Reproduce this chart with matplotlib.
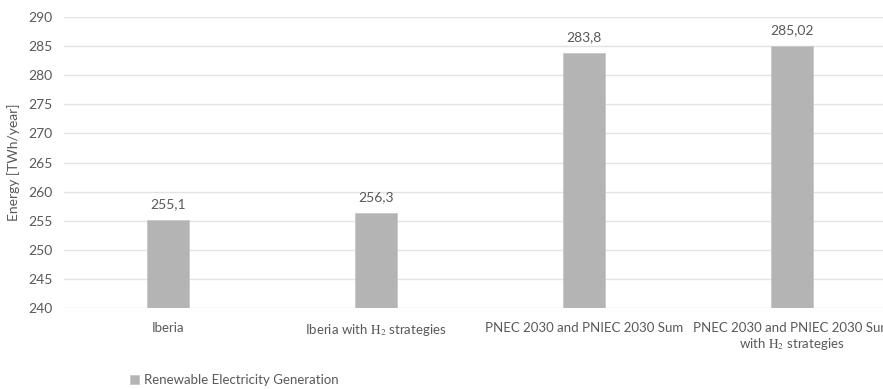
import matplotlib.pyplot as plt

# Dados
cenarios = ['Iberia', 'Iberia with $\\mathrm{H}_2$ strategies',
            'PNEC 2030 and PNIEC 2030 Sum',
            'PNEC 2030 and PNIEC 2030 Sum\nwith $\\mathrm{H}_2$ strategies']
energia = [255.1, 256.3, 283.8, 285.02]
rotulos = ['255,1', '256,3', '283,8', '285,02']

plt.rcParams['font.family'] = ['Lato', 'DejaVu Sans']
plt.rcParams['mathtext.fontset'] = 'stix'
cor_texto = '#595959'
fs = 10

fig = plt.figure(figsize=(8.83, 3.89), dpi=100)
ax = fig.add_axes([64 / 883, 81 / 389, 832 / 883, 291 / 389])

x = range(len(cenarios))
barras = ax.bar(x, energia, width=0.2, color='#b4b4b4', edgecolor='#c8c8c8',
                linewidth=0.6, label='Renewable Electricity Generation', zorder=2)
for b, txt in zip(barras, rotulos):
    ax.annotate(txt, (b.get_x() + b.get_width() / 2, b.get_height()),
                xytext=(0, 7), textcoords='offset points', ha='center', va='bottom',
                fontsize=fs, color=cor_texto)

ax.set_xlim(-0.5, len(cenarios) - 0.5)
ax.set_ylim(240, 290)
ax.set_yticks(range(240, 291, 5))
ax.set_xticks(list(x))
ax.set_xticklabels(cenarios, fontsize=9.5, color=cor_texto, linespacing=1.15)
ax.tick_params(axis='y', labelsize=fs, labelcolor=cor_texto, length=0, pad=8)
ax.tick_params(axis='x', length=0, pad=10)
ax.grid(axis='y', color='#e3e3e3', linewidth=1, zorder=0)
for lado in ax.spines.values():
    lado.set_visible(False)
ax.set_ylabel('Energy [TWh/year]', fontsize=fs, color=cor_texto, labelpad=6)

fig.legend(loc='center left', bbox_to_anchor=(118 / 883, 1 - 380 / 389), frameon=False,
           fontsize=9.5, labelcolor=cor_texto, handlelength=0.7, handleheight=0.7,
           handletextpad=0.4)

fig.savefig('out.png', dpi=100)
